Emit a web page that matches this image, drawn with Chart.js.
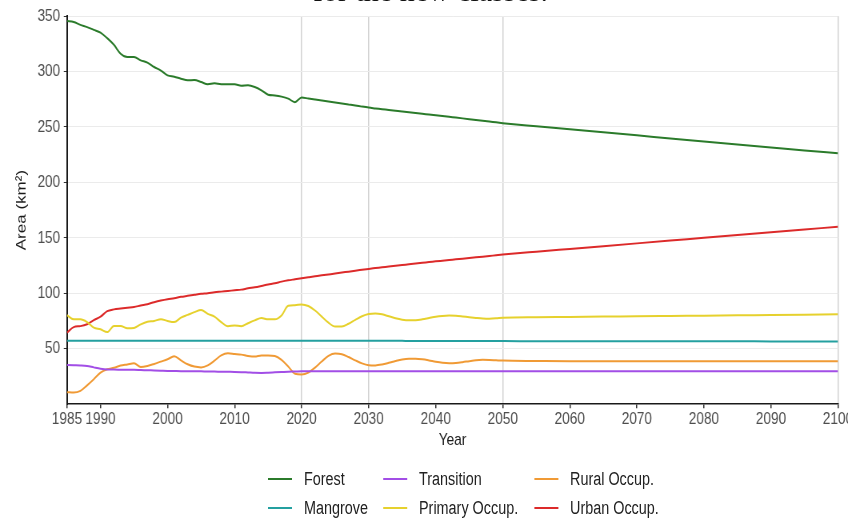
<!DOCTYPE html>
<html>
<head>
<meta charset="utf-8">
<script src="https://cdn.jsdelivr.net/npm/chart.js@4.4.1/dist/chart.umd.min.js"></script>
<style>
    html, body { margin: 0; padding: 0; background: #fff; overflow: hidden; }
    #wrap { position: relative; width: 848px; height: 519px; overflow: hidden; }
    /* la figura original esta comprimida en horizontal: se dibuja mas ancha y se escala */
    #stage { position: absolute; left: 0; top: 0; width: 1100px; height: 519px; transform: scaleX(0.8); transform-origin: 0 0; }
    #caption { position: absolute; left: 313px; top: -24px; font-family: 'Liberation Serif', serif; font-size: 30px; line-height: 1; color: #111; white-space: nowrap; }
    .lg-item { position: absolute; font-family: 'Liberation Sans', Arial, sans-serif; font-size: 18px; color: #222; white-space: nowrap; line-height: 20px; }
    .lg-line { position: absolute; height: 2px; }
</style>
</head>
<body>
<div id="wrap">
    <div id="stage">
        <canvas id="areaChart" width="1100" height="519"></canvas>
        <div id="legend"></div>
    </div>
    <div id="caption">for the new classes.</div>
</div>
<script>
// Años (anual hasta 2050, luego cada 5 años)
const years = [1985, 1986, 1987, 1988, 1989, 1990, 1991, 1992, 1993, 1994, 1995, 1996, 1997, 1998, 1999,
    2000, 2001, 2002, 2003, 2004, 2005, 2006, 2007, 2008, 2009, 2010, 2011, 2012, 2013, 2014, 2015, 2016,
    2017, 2018, 2019, 2020, 2021, 2022, 2023, 2024, 2025, 2026, 2027, 2028, 2029, 2030, 2031, 2032, 2033,
    2034, 2035, 2036, 2037, 2038, 2039, 2040, 2041, 2042, 2043, 2044, 2045, 2046, 2047, 2048, 2049, 2050,
    2055, 2060, 2065, 2070, 2075, 2080, 2085, 2090, 2095, 2100];

const forest = [345.4, 344.5, 342, 340, 337.5, 335, 330, 324, 316, 313, 313, 310, 308, 304, 300.8,
    296.5, 295.3, 293.5, 292, 292.2, 290.5, 288.5, 289.3, 288.5, 288.5, 288.5, 287.2, 287.5, 286, 283, 279, 278.3,
    277.3, 275.5, 272.3, 276.5, 275.6, 274.7, 273.8, 272.9, 272.0, 271.1, 270.2, 269.3, 268.3, 267.4, 266.7, 266.0, 265.3,
    264.6, 263.9, 263.2, 262.5, 261.8, 261.2, 260.5, 259.8, 259.1, 258.4, 257.7, 257.0, 256.3, 255.6, 254.9, 254.1, 253.4,
    250.6, 247.9, 245.1, 242.4, 239.6, 236.9, 234.2, 231.5, 228.8, 226.2];

const mangrove = [57.3, 57.3, 57.3, 57.3, 57.3, 57.3, 57.3, 57.3, 57.3, 57.3, 57.3, 57.3, 57.3, 57.3, 57.3,
    57.3, 57.3, 57.3, 57.3, 57.3, 57.3, 57.3, 57.3, 57.3, 57.3, 57.3, 57.3, 57.3, 57.3, 57.3, 57.3, 57.3,
    57.3, 57.3, 57.3, 57.3, 57.3, 57.2, 57.2, 57.2, 57.2, 57.2, 57.2, 57.2, 57.1, 57.1, 57.1, 57.1, 57.1,
    57.1, 57.1, 57.0, 57.0, 57.0, 57.0, 57.0, 57.0, 57.0, 56.9, 56.9, 56.9, 56.9, 56.9, 56.9, 56.9, 56.9,
    56.8, 56.8, 56.8, 56.7, 56.7, 56.7, 56.7, 56.6, 56.6, 56.6];

const transition = [35.4, 35.2, 35, 34.5, 33.2, 32, 31.3, 31.2, 31.1, 31, 31, 30.8, 30.6, 30.4, 30.2,
    30, 29.9, 29.8, 29.8, 29.7, 29.6, 29.5, 29.4, 29.3, 29.2, 29.1, 28.9, 28.6, 28.3, 28.2, 28.4, 28.7,
    29.0, 29.3, 29.5, 29.7, 29.7, 29.7, 29.7, 29.7, 29.7, 29.7, 29.7, 29.7, 29.7, 29.7, 29.7, 29.7, 29.7,
    29.7, 29.7, 29.7, 29.7, 29.7, 29.7, 29.7, 29.7, 29.7, 29.7, 29.7, 29.7, 29.7, 29.7, 29.7, 29.7, 29.7,
    29.7, 29.7, 29.7, 29.7, 29.7, 29.7, 29.7, 29.7, 29.7, 29.7];

const primaryOcc = [80.3, 76.5, 76.5, 74, 69, 67.5, 65, 70.5, 70.5, 68.4, 68.8, 72, 74.3, 75, 76.7,
    75, 74, 78, 80.5, 83, 85, 81.5, 79, 74, 70.3, 71, 70.3, 73, 75.6, 77.7, 76.5, 76.5,
    80, 88.8, 89.3, 90, 88.5, 84.5, 79, 73.5, 70, 70, 72.5, 76, 79.3, 81.3, 81.8, 81, 79.3,
    77.5, 76.2, 75.6, 75.7, 76.5, 77.7, 78.9, 79.6, 79.9, 79.7, 79.1, 78.4, 77.8, 77.3, 77.1, 77.4, 78,
    78.5, 78.7, 79, 79.2, 79.5, 79.8, 80.1, 80.4, 80.7, 81];

const ruralOcc = [10.8, 10.5, 12, 17, 22.5, 28.5, 31.5, 32.8, 34.8, 35.8, 36.9, 33.6, 34.5, 36.3, 38.4,
    40.5, 43.2, 39.5, 36, 33.9, 33.2, 35, 39.2, 44, 45.9, 45.3, 44.7, 43.5, 42.9, 44, 44, 43.5,
    40, 34, 27.5, 26.8, 28.5, 33, 38.5, 43.5, 45.6, 45, 42.5, 39.5, 36.8, 35.2, 35, 35.8, 37.3,
    39, 40.4, 41, 41, 40.5, 39.5, 38.3, 37.4, 37, 37.2, 37.9, 38.8, 39.6, 40, 39.9, 39.6, 39.3,
    39, 38.8, 38.8, 38.7, 38.7, 38.7, 38.7, 38.7, 38.7, 38.7];

const urbanOcc = [64.5, 69.5, 70.4, 72.1, 75.8, 78.9, 83.9, 85.5, 86.3, 87, 87.6, 89, 90.2, 92, 93.5,
    94.7, 95.6, 96.8, 97.7, 98.6, 99.5, 100, 100.9, 101.5, 102.1, 102.7, 103.3, 104.5, 105.4, 106.6, 107.9, 109,
    110.5, 111.7, 112.6, 113.5, 114.4, 115.3, 116.2, 117.0, 117.8, 118.7, 119.5, 120.4, 121.2, 122.0, 122.7, 123.4, 124.1,
    124.8, 125.5, 126.1, 126.8, 127.5, 128.1, 128.8, 129.4, 130.0, 130.6, 131.2, 131.8, 132.4, 133.0, 133.6, 134.3, 134.9,
    137.5, 140, 142.5, 145, 147.5, 150, 152.5, 155, 157.5, 160];

const xTickValues = [1985, 1990, 2000, 2010, 2020, 2030, 2040, 2050, 2060, 2070, 2080, 2090, 2100];
const yTickValues = [50, 100, 150, 200, 250, 300, 350];
const vGridYears = [2020, 2030, 2050, 2100];

// Orden de leyenda: fila 1 Forest, Transition, Rural; fila 2 Mangrove, Primary, Urban
const seriesLabels = ['Forest', 'Transition', 'Rural Occup.', 'Mangrove', 'Primary Occup.', 'Urban Occup.'];
const seriesColors = ['#2b7b2b', '#a24ee6', '#f09a35', '#24a0a0', '#e6d12e', '#dc2a2a'];
const seriesValues = [forest, transition, ruralOcc, mangrove, primaryOcc, urbanOcc];

const SX = 0.8; // compresion horizontal
const FONT = "'Liberation Sans', Arial, sans-serif";

function toPoints(values) {
    return values.map((v, i) => ({ x: years[i], y: v }));
}

const datasets = seriesLabels.map((label, i) => ({
    label: label,
    data: toPoints(seriesValues[i]),
    borderColor: seriesColors[i],
    backgroundColor: seriesColors[i],
    borderWidth: 2,
    pointRadius: 0,
    fill: false,
    cubicInterpolationMode: 'monotone'
}));

const ctx = document.getElementById('areaChart').getContext('2d');
const areaChart = new Chart(ctx, {
    type: 'line',
    data: { datasets: datasets },
    options: {
        responsive: false,
        maintainAspectRatio: false,
        animation: false,
        devicePixelRatio: 1,
        layout: { padding: { left: 0, right: 1100 - 838 / SX, top: 16, bottom: 64 } },
        plugins: {
            legend: { display: false },
            tooltip: { enabled: false }
        },
        scales: {
            x: {
                type: 'linear',
                min: 1985,
                max: 2100,
                afterBuildTicks: scale => { scale.ticks = xTickValues.map(v => ({ value: v })); },
                ticks: {
                    autoSkip: false,
                    maxRotation: 0,
                    color: '#4d4d4d',
                    padding: 1,
                    font: { family: FONT, size: 17 },
                    callback: v => String(v)
                },
                grid: {
                    color: c => (c.tick && vGridYears.includes(c.tick.value)) ? '#d2d2d2' : 'rgba(0,0,0,0)',
                    lineWidth: 1.5,
                    tickColor: '#333',
                    tickLength: 4
                },
                border: { color: '#1a1a1a', width: 1.6 },
                title: {
                    display: true,
                    text: 'Year',
                    color: '#1a1a1a',
                    font: { family: FONT, size: 17 },
                    padding: { top: 0, bottom: 4 }
                }
            },
            y: {
                min: 0,
                max: 350,
                afterBuildTicks: scale => { scale.ticks = yTickValues.map(v => ({ value: v })); },
                afterFit: scale => { scale.width = 67 / SX; },
                ticks: {
                    color: '#4d4d4d',
                    padding: 4.5,
                    font: { family: FONT, size: 17 }
                },
                grid: {
                    color: '#ebebeb',
                    lineWidth: 1,
                    tickColor: '#333',
                    tickLength: 4
                },
                border: { color: '#1a1a1a', width: 2 },
                title: {
                    display: true,
                    text: 'Area (km²)',
                    color: '#1a1a1a',
                    font: { family: FONT, size: 17 },
                    padding: { top: 17, bottom: 0 }
                }
            }
        }
    }
});

// Leyenda HTML en dos filas de tres columnas (coordenadas reales / SX)
const legendCols = [268, 383, 534];
const legendRows = [479, 508];
const legendBox = document.getElementById('legend');
areaChart.data.datasets.forEach((ds, i) => {
    const col = legendCols[i % 3];
    const rowY = legendRows[Math.floor(i / 3)];
    const line = document.createElement('div');
    line.className = 'lg-line';
    line.style.left = (col / SX) + 'px';
    line.style.width = (24 / SX) + 'px';
    line.style.top = (rowY - 1) + 'px';
    line.style.background = ds.borderColor;
    legendBox.appendChild(line);
    const txt = document.createElement('div');
    txt.className = 'lg-item';
    txt.style.left = ((col + 36) / SX) + 'px';
    txt.style.top = (rowY - 10) + 'px';
    txt.textContent = ds.label;
    legendBox.appendChild(txt);
});
</script>
</body>
</html>
